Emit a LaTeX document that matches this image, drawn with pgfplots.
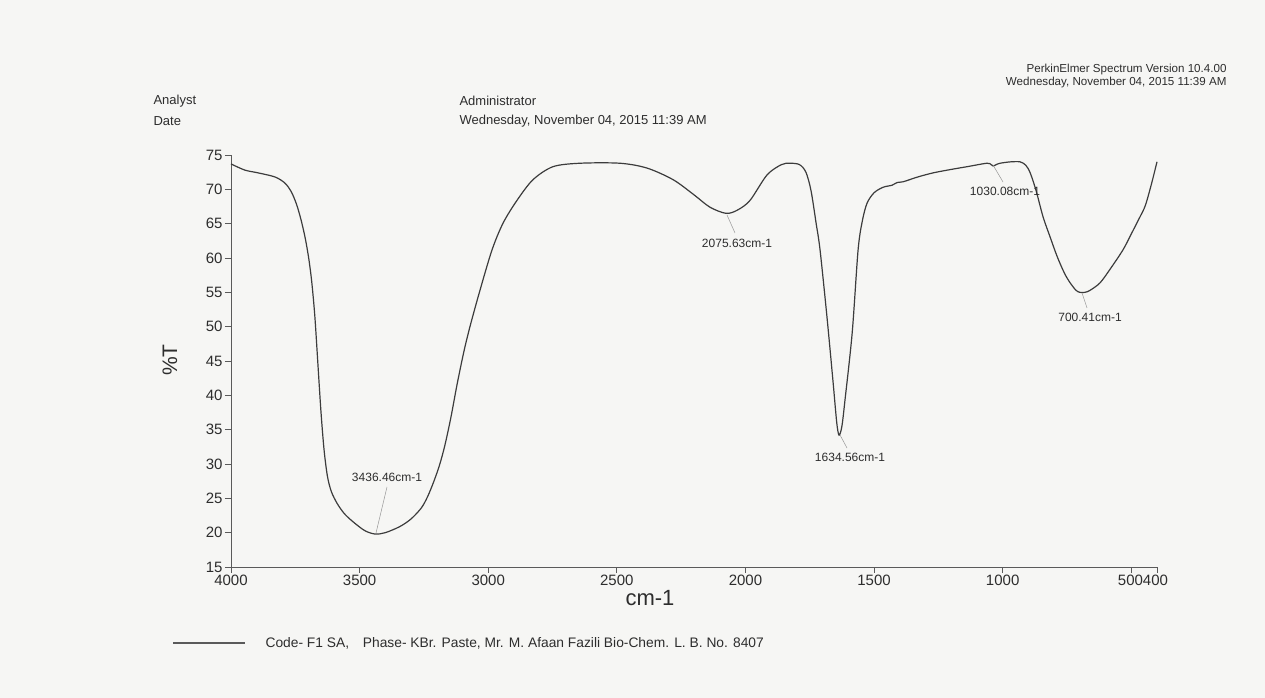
\documentclass[border=0pt]{standalone}
\usepackage{pgfplots}
\pgfplotsset{compat=1.18}
\usepackage{fontspec}
\setmainfont{Liberation Sans}
\definecolor{bgcol}{RGB}{246,246,244}
\definecolor{curve}{RGB}{60,60,60}
\definecolor{axcol}{RGB}{90,90,90}
\definecolor{txt}{RGB}{45,45,45}
\definecolor{lead}{RGB}{150,150,150}
\pgfplotstableread{
wn T
4000 73.7
3946 72.8
3895 72.4
3829 71.8
3790 70.9
3765 69.6
3745 67.8
3728 65.6
3712 63.0
3698 60.0
3686 56.5
3674 51.5
3662 44.5
3650 37.5
3638 32.0
3625 28.2
3610 26.0
3588 24.3
3560 22.8
3526 21.6
3480 20.3
3440 19.8
3400 20.0
3343 20.9
3300 22.0
3260 23.6
3235 25.3
3210 27.6
3188 30.0
3168 32.8
3145 36.8
3121 41.6
3095 46.3
3071 50.0
3032 55.3
2985 61.2
2942 65.1
2888 68.4
2826 71.4
2748 73.3
2643 73.8
2488 73.8
2383 73.1
2281 71.4
2200 69.2
2138 67.4
2075 66.5
2030 67.0
1982 68.4
1916 72.1
1860 73.6
1827 73.8
1790 73.6
1765 72.5
1745 69.8
1725 65.0
1710 61.2
1683 51.4
1659 41.8
1645 36.0
1636 34.2
1625 35.5
1613 39.3
1585 49.1
1562 61.2
1545 65.5
1527 68.0
1500 69.5
1465 70.3
1430 70.6
1410 71.0
1387 71.1
1330 71.8
1270 72.4
1200 72.9
1138 73.3
1061 73.8
1045 73.6
1037 73.4
1025 73.6
1010 73.8
970 74.0
932 74.0
910 73.5
893 72.4
870 69.8
843 66.0
815 63.0
788 60.2
760 57.8
738 56.4
715 55.3
700 55.0
680 55.0
660 55.3
621 56.4
580 58.5
532 61.2
500 63.5
466 66.0
450 67.2
439 68.4
420 71.0
400 74.0
}\spectrum
\begin{document}
\begin{tikzpicture}[x=1pt,y=1pt]
\fill[bgcol] (0,0) rectangle (1265,698);
\begin{axis}[
  at={(231pt,131pt)}, anchor=south west,
  scale only axis, width=926pt, height=412pt,
  xmin=400, xmax=4000, x dir=reverse,
  ymin=15, ymax=75,
  axis x line*=bottom, axis y line*=left,
  axis line style={axcol, line width=0.9pt},
  tick style={axcol, line width=0.8pt},
  tick align=outside, major tick length=6pt,
  ytick={15,20,...,75},
  xtick={4000,3500,3000,2500,2000,1500,1000,500},
  xticklabels={4000,3500,3000,2500,2000,1500,1000,},
  extra x ticks={400},
  extra x tick labels={500400},
  extra x tick style={tick label style={xshift=-14pt}},
  /pgf/number format/assume math mode=true,
  tick label style={font=\fontsize{15}{17}\selectfont, text=txt},
  xticklabel style={yshift=2pt},
  yticklabel style={xshift=1pt},
  clip=false,
]
\addplot[curve, line width=1.2pt, smooth] table[x=wn, y=T] {\spectrum};
\end{axis}
% axis titles
\node[txt, font=\fontsize{22}{24}\selectfont] at (650,100) {cm-1};
\node[txt, font=\fontsize{21}{24}\selectfont, rotate=90] at (170,338) {\%T};
% peak annotations
\begin{scope}[lead, line width=0.5pt]
\draw (376,165) -- (387,211);
\draw (727,483) -- (735,465);
\draw (840,263) -- (847,250);
\draw (993,533) -- (1003,516);
\draw (1082,405) -- (1087,390);
\end{scope}
\begin{scope}[every node/.style={txt, font=\fontsize{12}{14}\selectfont}]
\node at (387,221) {3436.46cm-1};
\node at (737,455) {2075.63cm-1};
\node at (850,241) {1634.56cm-1};
\node at (1005,507) {1030.08cm-1};
\node at (1090,381) {700.41cm-1};
\end{scope}
% header
\begin{scope}[every node/.style={txt, font=\fontsize{13}{15}\selectfont}]
\node[anchor=west] at (150,597) {Analyst};
\node[anchor=west] at (150,577) {Date};
\node[anchor=west] at (456,597) {Administrator};
\node[anchor=west] at (456,577) {Wednesday, November 04, 2015 11:39 AM};
\end{scope}
\begin{scope}[every node/.style={txt, font=\fontsize{11.6}{13}\selectfont, anchor=east}]
\node at (1230,628) {PerkinElmer Spectrum Version 10.4.00};
\node at (1230,615) {Wednesday, November 04, 2015 11:39 AM};
\end{scope}
% legend
\draw[axcol, line width=1.6pt] (173,55) -- (245,55);
\node[anchor=west, txt, font=\fontsize{13.8}{15}\selectfont] at (262,55) {Code- F1 SA,\quad Phase- KBr. Paste, Mr. M. Afaan Fazili Bio-Chem. L. B. No. 8407};
\end{tikzpicture}
\end{document}
